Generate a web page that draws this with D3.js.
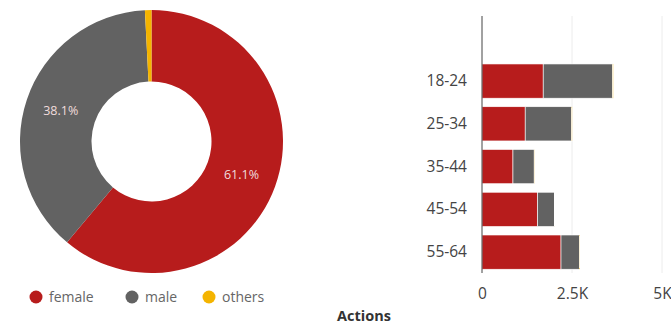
<!DOCTYPE html>
<html><head><meta charset="utf-8">
<script src="https://cdn.jsdelivr.net/npm/d3@7"></script>
<style>
html,body{margin:0;padding:0;background:#fff;}
svg{display:block;font-family:"Open Sans",sans-serif;}
</style></head>
<body>
<svg id="c" width="671" height="328"></svg>
<script>
const genders = ["female", "male", "others"];
const genderShare = [61.1, 38.1, 0.8];
const colors = ["#b71c1c", "#626262", "#f4b400"];

const ageGroups = ["18-24", "25-34", "35-44", "45-54", "55-64"];
const femaleActions = [1700, 1200, 860, 1545, 2195];
const maleActions = [1930, 1290, 590, 470, 510];
const othersActions = [20, 15, 10, 10, 15];
const xTicks = [0, 2500, 5000];
const xTickLabels = ["0", "2.5K", "5K"];
const xTitle = "Actions";

const svg = d3.select("#c");

// ---- Donut ----
const cx = 151.5, cy = 141.5, rOuter = 131.5, rInner = 60;
const pie = d3.pie().sort(null).value(d => d.v);
const pieData = pie(genders.map((g, i) => ({g, v: genderShare[i], c: colors[i]})));
const arc = d3.arc().innerRadius(rInner).outerRadius(rOuter);
const gPie = svg.append("g").attr("transform", `translate(${cx},${cy})`);
gPie.selectAll("path").data(pieData).join("path")
  .attr("d", arc).attr("fill", d => d.data.c);
gPie.selectAll("text").data(pieData.filter(d => d.data.v > 5)).join("text")
  .attr("transform", d => `translate(${arc.centroid(d)})`)
  .attr("text-anchor", "middle").attr("dy", "0.35em")
  .attr("fill", "#f0dcdc").attr("font-size", 12.5)
  .text(d => d.data.v.toFixed(1) + "%");

// legend
const legX = [36, 132, 209];
const gLeg = svg.append("g");
genders.forEach((g, i) => {
  gLeg.append("circle").attr("cx", legX[i]).attr("cy", 297).attr("r", 6.5).attr("fill", colors[i]);
  gLeg.append("text").attr("x", legX[i] + 13).attr("y", 297).attr("dy", "0.35em")
    .attr("font-size", 14).attr("fill", "#666").text(g);
});

// ---- Stacked bars ----
const x = d3.scaleLinear().domain([0, 5000]).range([482, 662]);
const y = d3.scaleBand().domain(ageGroups).range([59.7, 273.5]).paddingInner(0.2).paddingOuter(0.1);

// grid
svg.append("g").selectAll("line").data(xTicks.slice(1)).join("line")
  .attr("x1", d => x(d)).attr("x2", d => x(d)).attr("y1", 16).attr("y2", 273)
  .attr("stroke", "#ececec").attr("stroke-width", 1);

const rows = ageGroups.map((a, i) => ({a, female: femaleActions[i], male: maleActions[i], others: othersActions[i]}));
const stack = d3.stack().keys(genders)(rows);
svg.append("g").selectAll("g").data(stack).join("g")
  .attr("fill", (d, i) => colors[i])
  .selectAll("rect").data(d => d).join("rect")
  .attr("x", d => x(d[0])).attr("width", d => Math.max(0, x(d[1]) - x(d[0])))
  .attr("y", d => y(d.data.a)).attr("height", y.bandwidth())
  .attr("stroke", "#fff").attr("stroke-width", 0.6);

// y axis
const yAxis = svg.append("g").attr("transform", "translate(482,0)")
  .call(d3.axisLeft(y).tickSize(0).tickPadding(15));
yAxis.select(".domain").remove();
yAxis.selectAll("text").attr("font-size", 15.5).attr("fill", "#444").attr("font-family", "Open Sans, sans-serif");
svg.append("line").attr("x1", 482).attr("x2", 482).attr("y1", 16).attr("y2", 273)
  .attr("stroke", "#444").attr("stroke-width", 1);

// x axis
const xAxis = svg.append("g").attr("transform", "translate(0,273)")
  .call(d3.axisBottom(x).tickValues(xTicks).tickFormat((d, i) => xTickLabels[i]).tickSize(0).tickPadding(15));
xAxis.select(".domain").remove();
xAxis.selectAll("text").attr("font-size", 15.5).attr("fill", "#444").attr("font-family", "Open Sans, sans-serif");

svg.append("text").attr("x", 364).attr("y", 321).attr("text-anchor", "middle")
  .attr("font-size", 14.5).attr("font-weight", "bold").attr("fill", "#333").text(xTitle);
</script>
</body></html>
